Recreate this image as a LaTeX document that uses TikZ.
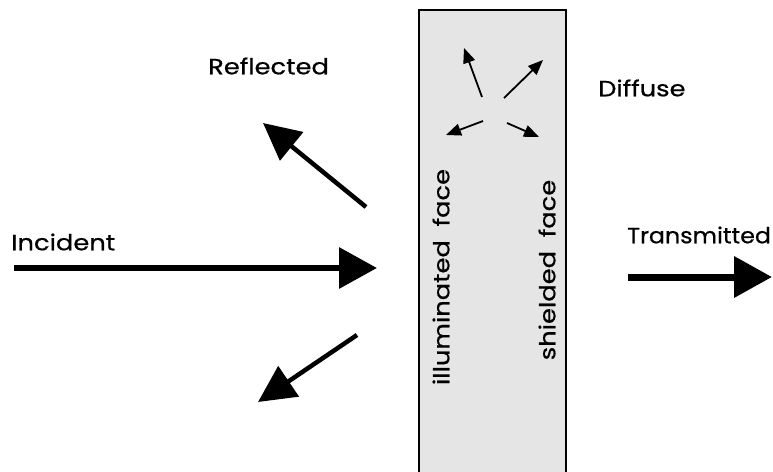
\documentclass[tikz,border=0pt]{standalone}
\usepackage{fontspec}
\setmainfont{Poppins}[FakeBold=0.6]
\usetikzlibrary{arrows.meta}
\definecolor{slab}{HTML}{E5E5E5}
\newcommand{\wtxt}[2][1.17]{\scalebox{#1}[1]{#2}}
\tikzset{
  lbl/.style={inner sep=0pt, font=\fontsize{22}{22}\selectfont},
  big/.style={line width=#1, -{Triangle[length=38pt,width=40pt]}},
  refl/.style={line width=4.5pt, -{Triangle[length=37pt,width=36pt]}},
  diff/.style={line width=1.8pt, -{Triangle[length=15pt,width=12pt]}},
}
\begin{document}
\begin{tikzpicture}[x=1pt,y=-1pt]
\useasboundingbox (0,0) rectangle (773,471);
\draw[line width=2pt, fill=slab] (419,10) -- (566,10) -- (566,475) -- (419,475) -- cycle;
% coordinates
\coordinate (inS) at (14,268);
\coordinate (inE) at (377,268);
\coordinate (trS) at (628,277);
\coordinate (trE) at (772,277);
\coordinate (r1S) at (366,207);
\coordinate (r1E) at (263,123);
\coordinate (r2S) at (357,335);
\coordinate (r2E) at (258,402);
\coordinate (d1S) at (482,97);
\coordinate (d1E) at (464,48);
\coordinate (d2S) at (504,98);
\coordinate (d2E) at (543,60);
\coordinate (d3S) at (483,121);
\coordinate (d3E) at (446,135);
\coordinate (d4S) at (507,123);
\coordinate (d4E) at (539,137);
\draw[big=6.5pt] (inS) -- (inE);
\draw[big=7pt] (trS) -- (trE);
\draw[refl] (r1S) -- (r1E);
\draw[refl] (r2S) -- (r2E);
\draw[diff] (d1S) -- (d1E);
\draw[diff] (d2S) -- (d2E);
\draw[diff] (d3S) -- (d3E);
\draw[diff] (d4S) -- (d4E);
\node[lbl, anchor=west] (inc) at (11,242) {\wtxt{Incident}};
\node[lbl, anchor=west] (ref) at (208,66) {\wtxt{Reflected}};
\node[lbl, anchor=west] (dif) at (598,88) {\wtxt{Diffuse}};
\node[lbl, anchor=west] (tra) at (627,235) {\wtxt[1.08]{Transmitted}};
\node[lbl, rotate=90] (ill) at (441,277) {\wtxt{illuminated\ \ face}};
\node[lbl, rotate=90] (shi) at (547,270) {\wtxt{shielded\ \ face}};
\end{tikzpicture}
\end{document}
